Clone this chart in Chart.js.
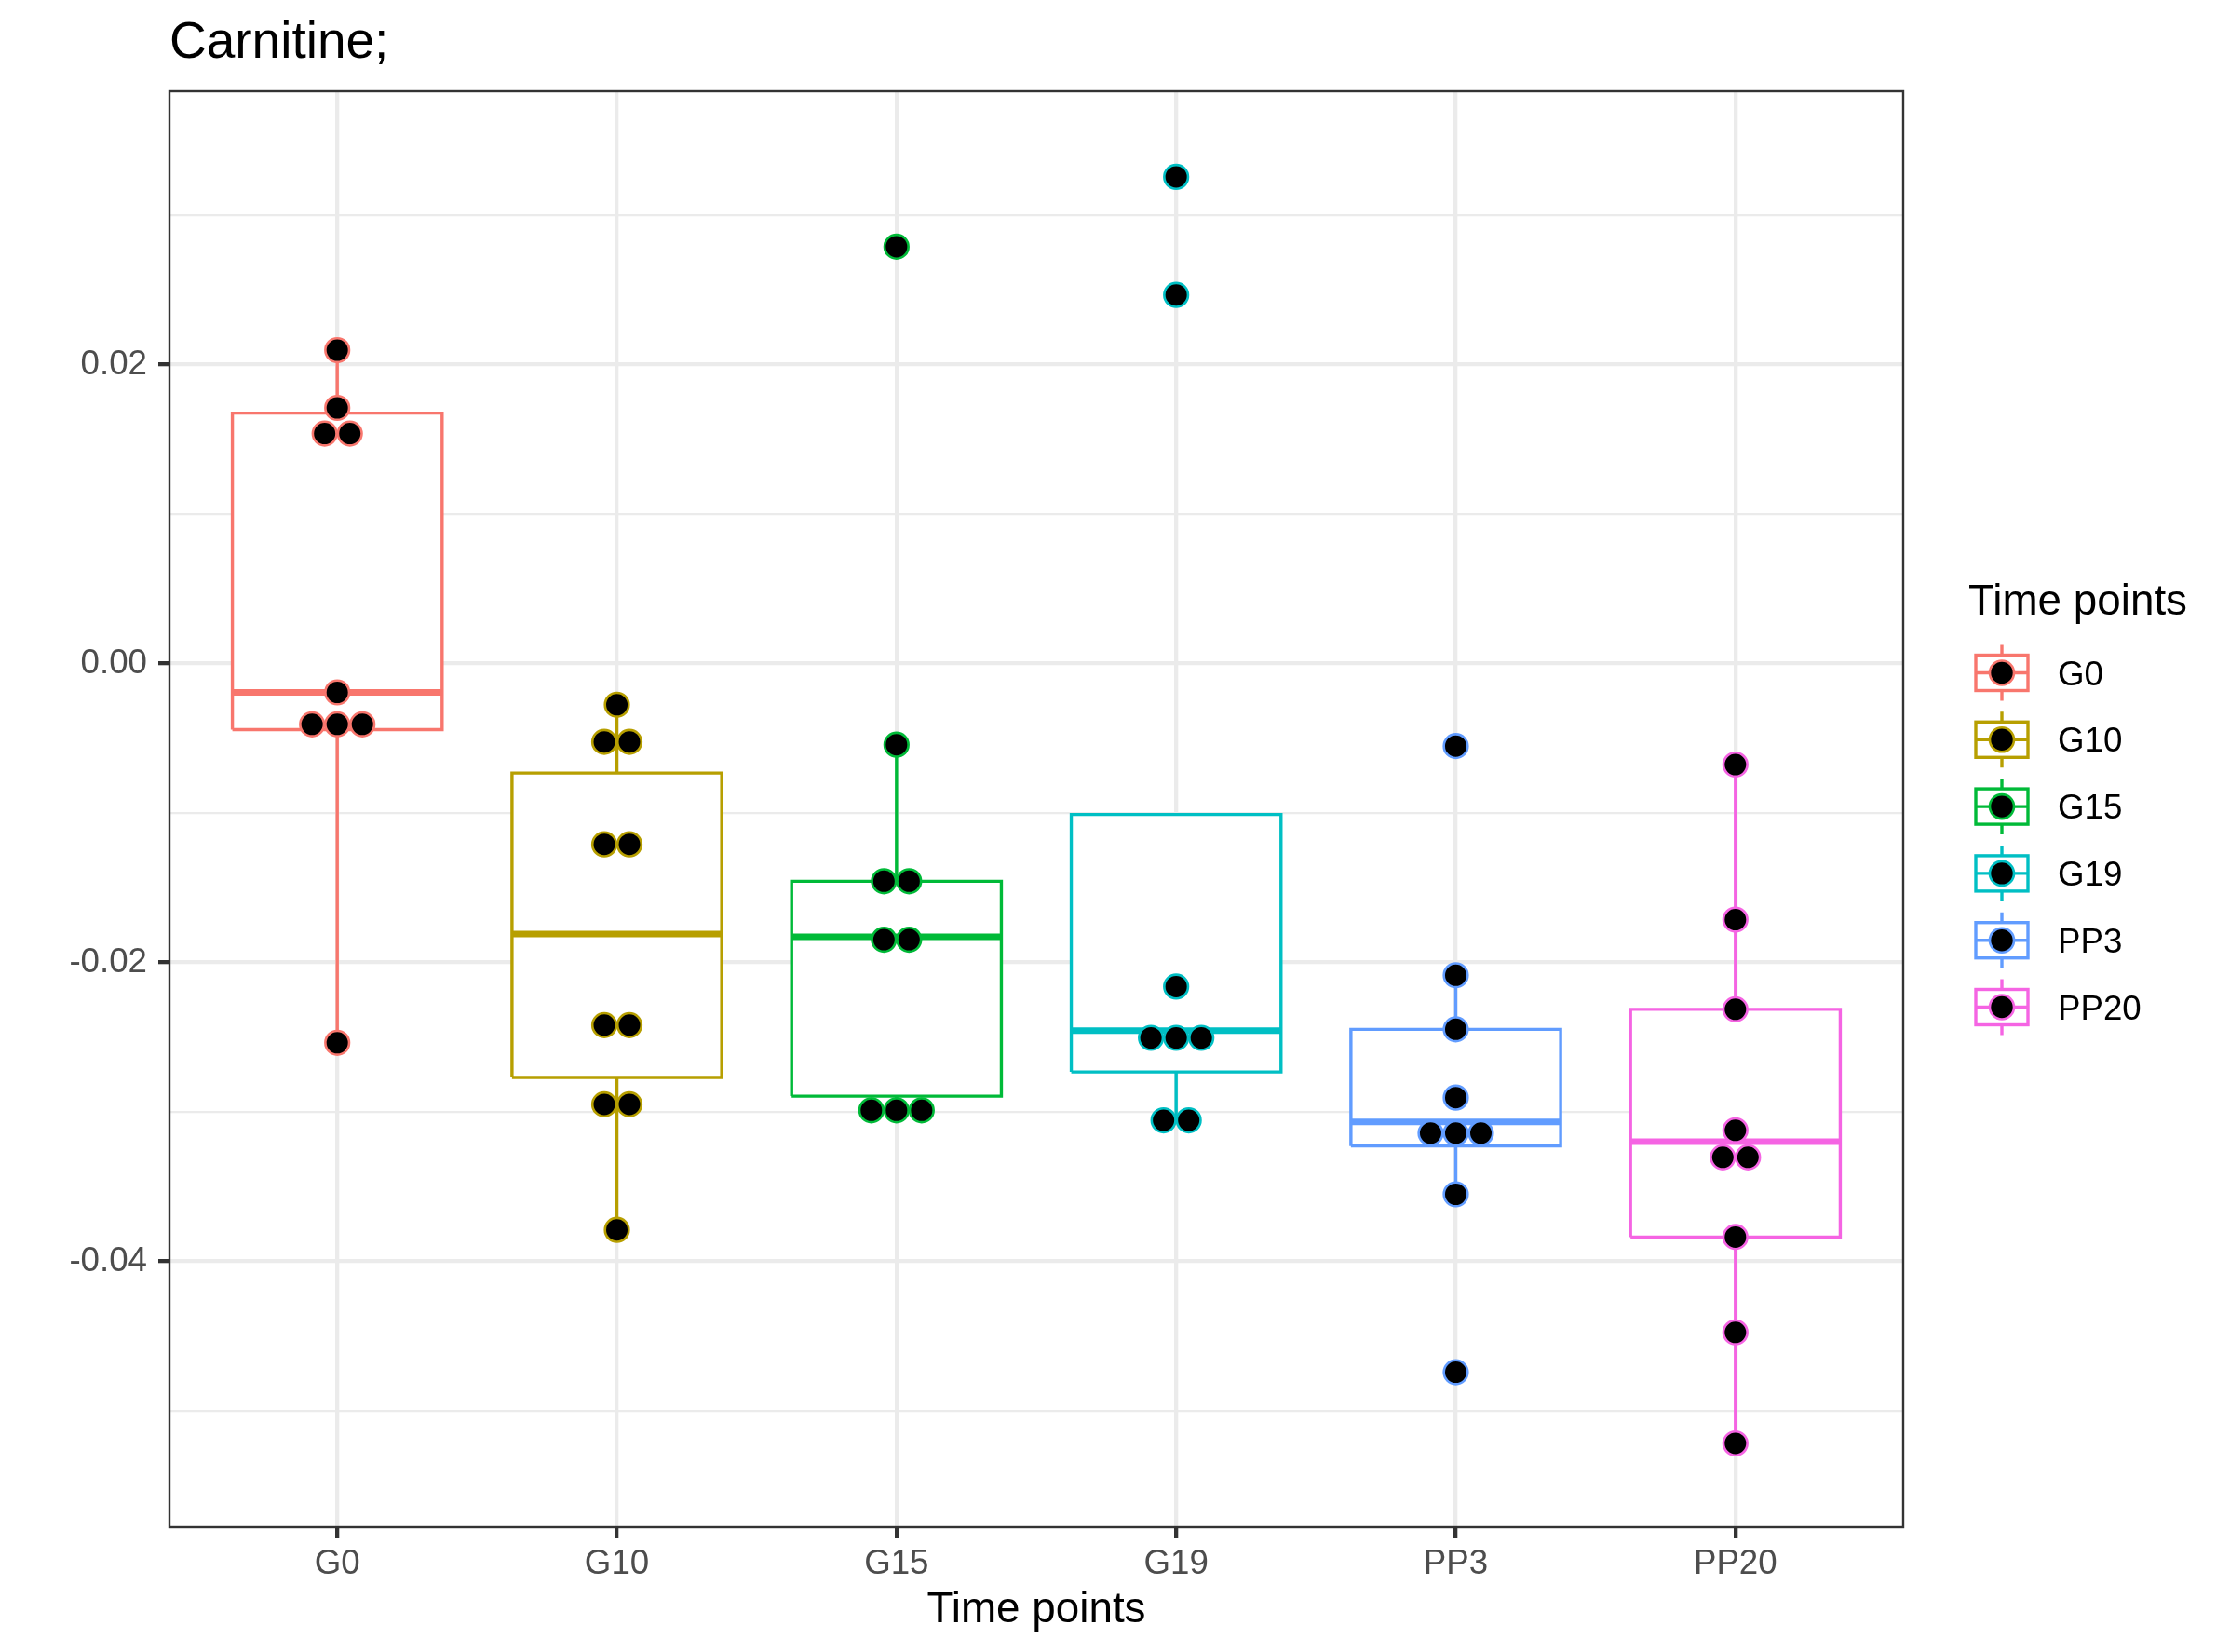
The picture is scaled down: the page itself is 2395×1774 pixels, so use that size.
<!DOCTYPE html>
<html>
<head>
<meta charset="utf-8">
<script src="https://cdn.jsdelivr.net/npm/chart.js@4.4.1/dist/chart.umd.min.js"></script>
<style>
  body { margin: 0; background: #fff; }
  #wrap { width: 2395px; height: 1774px; }
</style>
</head>
<body>
<div id="wrap"><canvas id="boxChart" width="2395" height="1774"></canvas></div>
<script>
// データ
const categories = ['G0', 'G10', 'G15', 'G19', 'PP3', 'PP20'];
const colors = ['#F8766D', '#B79F00', '#00BA38', '#00BFC4', '#619CFF', '#F564E3'];

// 箱ひげ図の値
const whiskerLow  = [-0.02538, -0.0379, -0.0295, -0.03057, -0.0355, -0.05219];
const q1          = [-0.00442, -0.0277, -0.02895, -0.02733, -0.03229, -0.03838];
const median      = [-0.00193, -0.0181, -0.01829, -0.02457, -0.03067, -0.0320];
const q3          = [0.01676, -0.00733, -0.01457, -0.0101, -0.02448, -0.02314];
const whiskerHigh = [0.02097, -0.00276, -0.00543, -0.0101, -0.02086, -0.00676];

// 各群の点（同じ値は横に並べる）
const pointsG0   = [0.02097, 0.01711, 0.01539, 0.01539, -0.00193, -0.00407, -0.00407, -0.00407, -0.02538];
const pointsG10  = [-0.00276, -0.00524, -0.00524, -0.0121, -0.0121, -0.0242, -0.0242, -0.0295, -0.0295, -0.0379];
const pointsG15  = [0.0279, -0.00543, -0.01457, -0.01457, -0.01848, -0.01848, -0.0299, -0.0299, -0.0299];
const pointsG19  = [0.03257, 0.02467, -0.02162, -0.02505, -0.02505, -0.02505, -0.03057, -0.03057];
const pointsPP3  = [-0.00552, -0.02086, -0.02448, -0.02905, -0.03143, -0.03143, -0.03143, -0.03552, -0.04743];
const pointsPP20 = [-0.00676, -0.01714, -0.02314, -0.03124, -0.03305, -0.03305, -0.03838, -0.04476, -0.05219];
const groupPoints = [pointsG0, pointsG10, pointsG15, pointsG19, pointsPP3, pointsPP20];

// 軸目盛
const yMajorTicks = [-0.04, -0.02, 0.00, 0.02];
const yMinorTicks = [-0.05, -0.03, -0.01, 0.01, 0.03];

const titleText = 'Carnitine;';
const xTitle = 'Time points';
const legendTitle = 'Time points';

const FONT = "'Liberation Sans', Arial, Helvetica, sans-serif";
const BOX_HALF = 0.375;
const DOT_STEP = 0.09;

Chart.defaults.font.family = FONT;

// ドットを横に並べる
function dotData(values, x) {
  const counts = {};
  values.forEach(v => { counts[v] = (counts[v] || 0) + 1; });
  const seen = {};
  return values.map(v => {
    const k = seen[v] || 0;
    seen[v] = k + 1;
    return { x: x + (k - (counts[v] - 1) / 2) * DOT_STEP, y: v };
  });
}

function isMajor(v) {
  return yMajorTicks.some(t => Math.abs(t - v) < 1e-9);
}

const datasets = [];
categories.forEach((cat, i) => {
  const x = i + 1;
  const col = colors[i];
  const lineBase = { showLine: true, pointRadius: 0, borderColor: col, fill: false, tension: 0 };

  datasets.push({
    label: cat,
    data: dotData(groupPoints[i], x),
    backgroundColor: '#000000',
    borderColor: col,
    borderWidth: 2.6,
    pointRadius: 12.8,
    order: 0
  });

  datasets.push(Object.assign({}, lineBase, {
    data: [{ x: x - BOX_HALF, y: median[i] }, { x: x + BOX_HALF, y: median[i] }],
    borderWidth: 7,
    borderCapStyle: 'butt',
    order: 1
  }));

  if (whiskerHigh[i] > q3[i]) {
    datasets.push(Object.assign({}, lineBase, {
      data: [{ x: x, y: q3[i] }, { x: x, y: whiskerHigh[i] }],
      borderWidth: 3.4,
      order: 1
    }));
  }
  if (whiskerLow[i] < q1[i]) {
    datasets.push(Object.assign({}, lineBase, {
      data: [{ x: x, y: q1[i] }, { x: x, y: whiskerLow[i] }],
      borderWidth: 3.4,
      order: 1
    }));
  }

  datasets.push(Object.assign({}, lineBase, {
    data: [
      { x: x - BOX_HALF, y: q1[i] }, { x: x + BOX_HALF, y: q1[i] },
      { x: x + BOX_HALF, y: q3[i] }, { x: x - BOX_HALF, y: q3[i] },
      { x: x - BOX_HALF, y: q1[i] }
    ],
    borderWidth: 3.4,
    borderJoinStyle: 'miter',
    backgroundColor: '#ffffff',
    fill: 'shape',
    order: 2
  }));
});

// タイトル・枠線・凡例
const decorPlugin = {
  id: 'decor',
  afterDatasetsDraw(chart) {
    const { ctx, chartArea: a } = chart;
    ctx.save();
    ctx.strokeStyle = '#333333';
    ctx.lineWidth = 2.4;
    ctx.strokeRect(a.left, a.top, a.right - a.left, a.bottom - a.top);
    ctx.restore();
  },
  afterDraw(chart) {
    const ctx = chart.ctx;
    ctx.save();
    ctx.fillStyle = '#000';
    ctx.textBaseline = 'alphabetic';
    ctx.textAlign = 'left';
    ctx.font = `55px ${FONT}`;
    ctx.fillText(titleText, 182, 62);

    ctx.font = `45.8px ${FONT}`;
    ctx.fillText(legendTitle, 2114, 660);

    const cx = 2150;
    categories.forEach((cat, i) => {
      const cy = 722.5 + i * 71.8;
      const col = colors[i];
      ctx.strokeStyle = col;
      ctx.lineWidth = 3.4;
      ctx.beginPath();
      ctx.moveTo(cx, cy - 30); ctx.lineTo(cx, cy - 19);
      ctx.moveTo(cx, cy + 19); ctx.lineTo(cx, cy + 30);
      ctx.stroke();
      ctx.fillStyle = '#fff';
      ctx.fillRect(cx - 28, cy - 19, 56, 38);
      ctx.strokeRect(cx - 28, cy - 19, 56, 38);
      ctx.beginPath();
      ctx.moveTo(cx - 28, cy); ctx.lineTo(cx + 28, cy);
      ctx.stroke();
      ctx.beginPath();
      ctx.arc(cx, cy, 13, 0, Math.PI * 2);
      ctx.fillStyle = '#000';
      ctx.fill();
      ctx.lineWidth = 2.6;
      ctx.stroke();

      ctx.fillStyle = '#000';
      ctx.font = `36.7px ${FONT}`;
      ctx.textBaseline = 'middle';
      ctx.fillText(cat, 2210, cy + 3);
    });
    ctx.restore();
  }
};

const ctx = document.getElementById('boxChart').getContext('2d');
window.boxChart = new Chart(ctx, {
  type: 'scatter',
  data: { datasets: datasets },
  options: {
    responsive: false,
    animation: false,
    devicePixelRatio: 1,
    layout: { padding: { top: 98, right: 351, bottom: 0, left: 0 } },
    plugins: {
      legend: { display: false },
      tooltip: { enabled: false },
      title: { display: false }
    },
    scales: {
      x: {
        type: 'linear',
        min: 0.4,
        max: 6.6,
        afterBuildTicks: (scale) => {
          scale.ticks = categories.map((c, i) => ({ value: i + 1 }));
        },
        afterFit: (scale) => { scale.height = 134; },
        ticks: {
          callback: (v) => categories[Math.round(v) - 1],
          color: '#4D4D4D',
          font: { size: 36.7 },
          padding: 6,
          maxRotation: 0,
          autoSkip: false
        },
        grid: {
          color: '#EBEBEB',
          lineWidth: 4.3,
          tickLength: 12,
          tickColor: '#333333',
          tickWidth: 4.3
        },
        border: { display: false },
        title: {
          display: true,
          text: xTitle,
          color: '#000',
          font: { size: 45.8 },
          padding: { top: 0, bottom: 17 }
        }
      },
      y: {
        type: 'linear',
        min: -0.0578,
        max: 0.0383,
        afterBuildTicks: (scale) => {
          scale.ticks = yMajorTicks.concat(yMinorTicks).sort((a, b) => a - b).map(v => ({ value: v }));
        },
        afterFit: (scale) => { scale.width = 182; },
        ticks: {
          callback: (v) => isMajor(v) ? v.toFixed(2) : '',
          color: '#4D4D4D',
          font: { size: 36.7 },
          padding: 12,
          autoSkip: false
        },
        grid: {
          color: '#EBEBEB',
          lineWidth: (c) => isMajor(c.tick.value) ? 4.3 : 2.2,
          tickLength: 12,
          tickColor: (c) => isMajor(c.tick.value) ? '#333333' : 'rgba(0,0,0,0)',
          tickWidth: 4.3
        },
        border: { display: false }
      }
    }
  },
  plugins: [decorPlugin]
});
</script>
</body>
</html>
